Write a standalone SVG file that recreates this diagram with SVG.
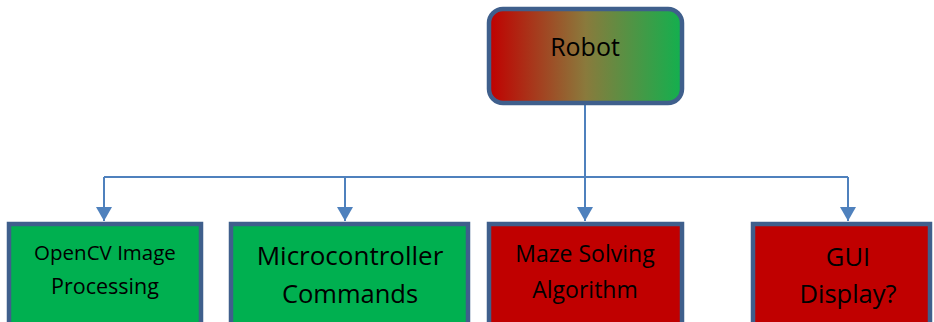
<svg xmlns="http://www.w3.org/2000/svg" width="934" height="322" viewBox="0 0 934 322">
<defs>
<linearGradient id="g" x1="0" y1="0" x2="1" y2="0">
<stop offset="0" stop-color="#c00000"/>
<stop offset="0.5" stop-color="#8a7a3c"/>
<stop offset="1" stop-color="#12b04e"/>
</linearGradient>
<marker id="ah" markerWidth="14" markerHeight="16" refX="14" refY="8" orient="auto" markerUnits="userSpaceOnUse" viewBox="0 0 14 16">
<path d="M0,0 L14,8 L0,16 Z" fill="#4f81bd"/>
</marker>
<style>
.box{stroke:#3f5f8c;stroke-width:4.5}
.g{fill:#00b050}
.r{fill:#c00000}
.t{font-family:"Open Sans","Liberation Sans",sans-serif;fill:#000;text-anchor:middle}
.c{fill:none;stroke:#4f81bd;stroke-width:2}
</style>
</defs>
<g id="connectors">
<path class="c" d="M585,104 V177"/>
<path class="c" d="M104,177 H848"/>
<path class="c" d="M104,177 V221" marker-end="url(#ah)"/>
<path class="c" d="M345,177 V221" marker-end="url(#ah)"/>
<path class="c" d="M585,177 V221" marker-end="url(#ah)"/>
<path class="c" d="M848,177 V221" marker-end="url(#ah)"/>
</g>
<g id="robot">
<rect class="box" x="489" y="9" width="193" height="94" rx="14" fill="url(#g)"/>
<text class="t" x="585" y="56" font-size="25">Robot</text>
</g>
<g id="opencv">
<rect class="box g" x="9" y="224" width="192" height="110"/>
<text class="t" x="105" y="260" font-size="20.5">OpenCV Image</text>
<text class="t" x="105" y="294" font-size="21.5">Processing</text>
</g>
<g id="micro">
<rect class="box g" x="231" y="224" width="237" height="110"/>
<text class="t" x="350" y="265" font-size="26">Microcontroller</text>
<text class="t" x="350" y="303" font-size="25.5">Commands</text>
</g>
<g id="maze">
<rect class="box r" x="489" y="224" width="193" height="110"/>
<text class="t" x="585" y="262" font-size="23">Maze Solving</text>
<text class="t" x="585" y="298" font-size="23">Algorithm</text>
</g>
<g id="gui">
<rect class="box r" x="753" y="224" width="177" height="110"/>
<text class="t" x="848" y="266" font-size="25.5">GUI</text>
<text class="t" x="848" y="303" font-size="25.5">Display?</text>
</g>
</svg>
